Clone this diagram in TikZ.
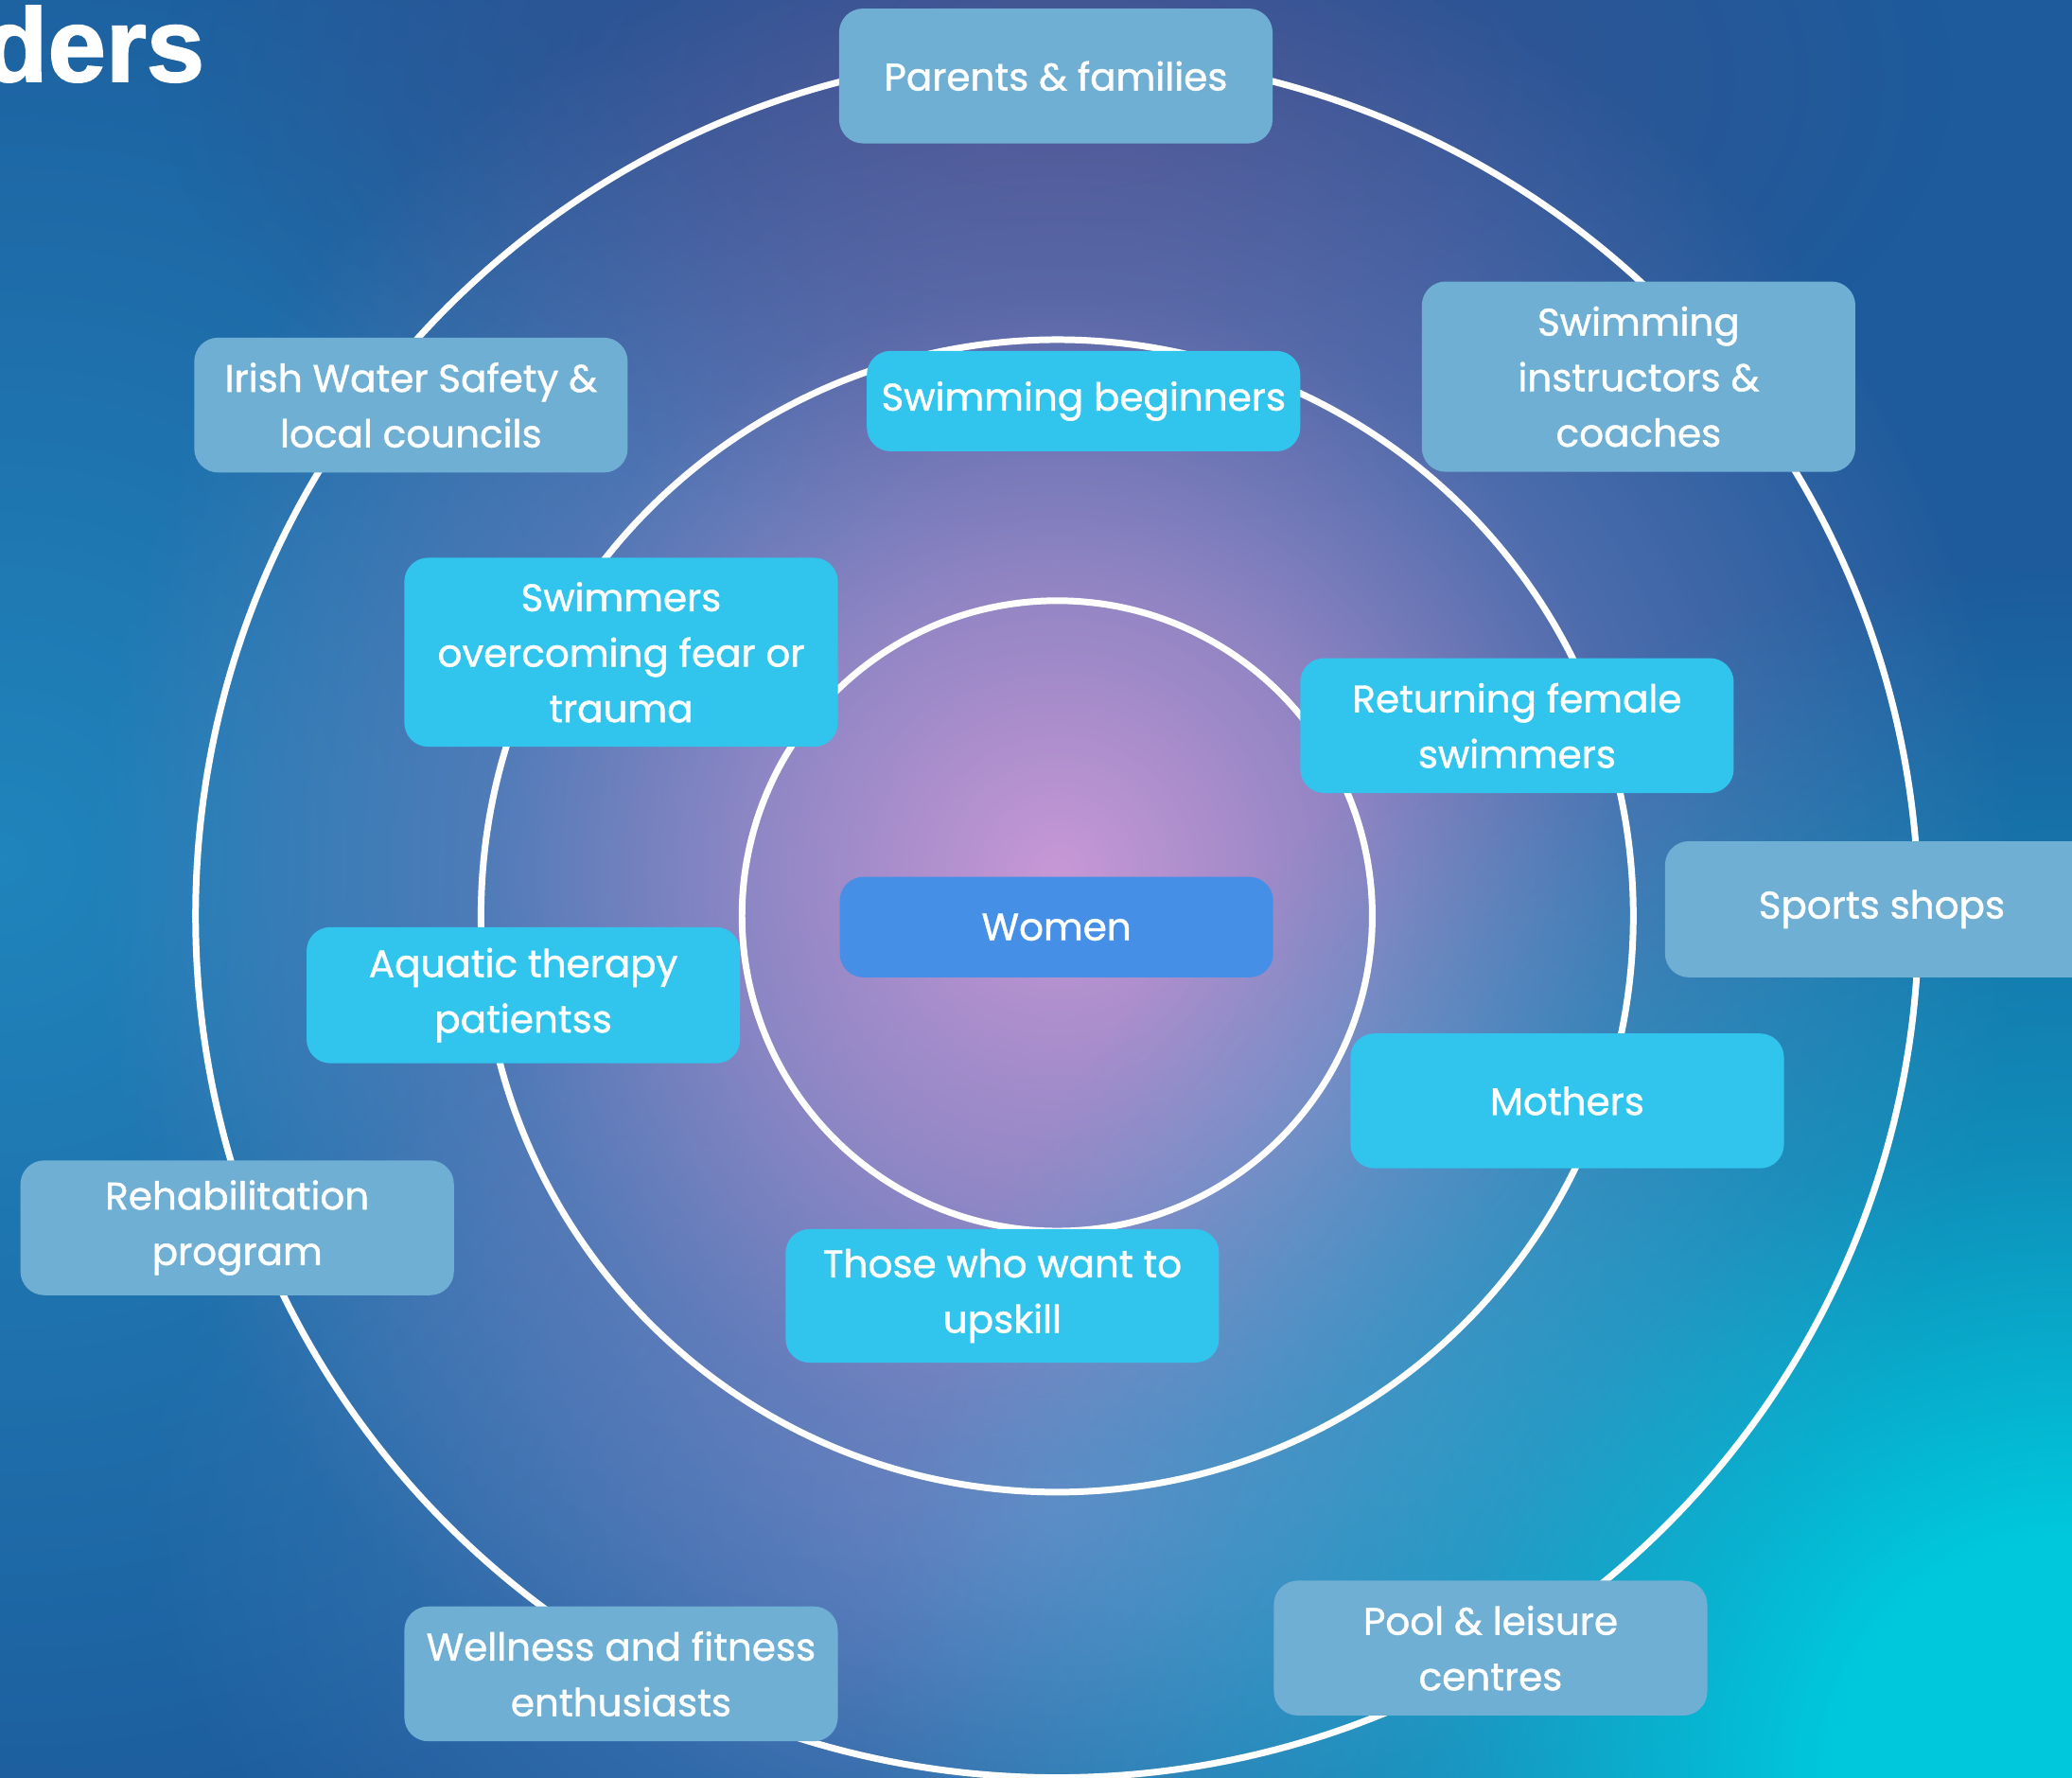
\documentclass[tikz,border=0pt]{standalone}
\usepackage{fontspec}
\setmainfont{Poppins}[FakeBold=1.1]
\newfontfamily\headfont{Liberation Sans}[BoldFeatures={FakeBold=1.6}]
\usetikzlibrary{fadings}
\definecolor{bgbase}{HTML}{1D5B9C}
\definecolor{bgteal}{HTML}{2085BC}
\definecolor{bgcyan}{HTML}{00C8DC}
\definecolor{bgpurple}{HTML}{C898D6}
\definecolor{bgtop}{HTML}{3E4F8E}
\definecolor{bgmid}{HTML}{4E80BE}
\definecolor{lightbox}{HTML}{6FAFD3}
\definecolor{cyanbox}{HTML}{31C5EE}
\definecolor{womenbox}{HTML}{458FE6}
\pgfdeclareradialshading{softsh}{\pgfpointorigin}{color(0bp)=(white); color(25bp)=(black); color(50bp)=(black)}
\pgfdeclarefading{soft}{\pgfuseshading{softsh}}
\pgfdeclareradialshading{purpsh}{\pgfpointorigin}{color(0bp)=(white); color(8bp)=(white!66!black); color(15bp)=(white!28!black); color(25bp)=(black); color(50bp)=(black)}
\pgfdeclarefading{purpfade}{\pgfuseshading{purpsh}}
\pgfdeclareradialshading{cyansh}{\pgfpointorigin}{color(0bp)=(white); color(5bp)=(white); color(13bp)=(white!45!black); color(25bp)=(black); color(50bp)=(black)}
\pgfdeclarefading{cyanfade}{\pgfuseshading{cyansh}}
\tikzset{
  box/.style={rounded corners=18pt, minimum width=328pt, text=white, align=center,
    font=\fontsize{29}{42}\selectfont, inner sep=0pt},
  outerbox/.style={box, fill=lightbox},
  midbox/.style={box, fill=cyanbox},
  corebox/.style={box, fill=womenbox},
  ring/.style={circle, draw=white, line width=5pt, inner sep=0pt},
}
\begin{document}
\begin{tikzpicture}[x=1pt,y=-1pt]
\useasboundingbox (0,0) rectangle (1568,1345);
\begin{scope}
\clip (0,0) rectangle (1568,1345);
\fill[bgbase] (0,0) rectangle (1568,1345);
\fill[bgteal, path fading=soft] (0,650) circle (780);
\fill[bgmid, path fading=soft] (800,1150) ellipse (700 and 450);
\fill[bgtop, path fading=soft] (800,60) ellipse (680 and 340);
\fill[bgpurple, path fading=purpfade] (800,660) circle (730);
\fill[bgcyan, path fading=cyanfade] (1568,1345) circle (920);
\end{scope}
\coordinate (c) at (800,693);
\node[ring, minimum size=1304pt] (outer) at (c) {};
\node[ring, minimum size=872pt] (middle) at (c) {};
\node[ring, minimum size=477pt] (inner) at (c) {};

\node[anchor=base east, inner sep=0pt, text=white, font=\headfont\bfseries\fontsize{79}{79}\selectfont] (title) at (155,61.6) {ders};

% outer ring boxes
\node[outerbox, minimum height=102pt] (parents) at (799,57.5) {Parents \& families};
\node[outerbox, minimum height=144pt] (instr) at (1240,285) {Swimming\\instructors \&\\coaches};
\node[outerbox, minimum height=102pt] (irish) at (311,306.5) {Irish Water Safety \&\\local councils};
\node[outerbox, minimum height=103pt] (shops) at (1424,688) {Sports shops};
\node[outerbox, minimum height=102pt] (rehab) at (179.5,929) {Rehabilitation\\program};
\node[outerbox, minimum height=102pt] (wellness) at (470,1266.5) {Wellness and fitness\\enthusiasts};
\node[outerbox, minimum height=102pt] (pool) at (1128,1247) {Pool \& leisure\\centres};

% middle ring boxes
\node[midbox, minimum height=76pt] (beginners) at (820,303.5) {Swimming beginners};
\node[midbox, minimum height=143pt] (fear) at (470,493.5) {Swimmers\\overcoming fear or\\trauma};
\node[midbox, minimum height=102pt] (returning) at (1148,549) {Returning female\\swimmers};
\node[midbox, minimum height=103pt] (aquatic) at (396,753) {Aquatic therapy\\patientss};
\node[midbox, minimum height=102pt] (mothers) at (1186,833) {Mothers};
\node[midbox, minimum height=101pt] (upskill) at (758.5,980.5) {Those who want to\\upskill};

% core
\node[corebox, minimum height=76pt] (women) at (799.5,701.5) {Women};
\end{tikzpicture}
\end{document}
